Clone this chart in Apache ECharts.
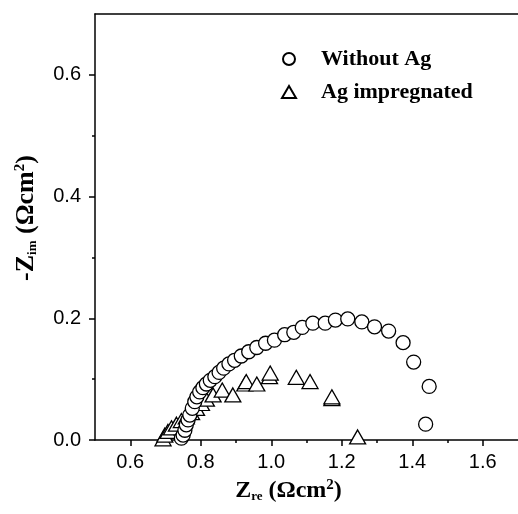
<!DOCTYPE html>
<html>
<head>
<meta charset="utf-8">
<title>Nyquist plot</title>
<script src="https://cdn.jsdelivr.net/npm/echarts@6/dist/echarts.min.js"></script>
</head>
<body style="margin:0">
<div id="main" style="width:518px;height:514px;"></div>
<script type="text/javascript">
var chart = echarts.init(document.getElementById('main'));

// Z_re, -Z_im (Ohm cm2)
var withoutAg = [
  [0.745,0.003],[0.750,0.008],[0.755,0.016],[0.759,0.025],[0.764,0.033],[0.769,0.041],
  [0.776,0.052],[0.783,0.063],[0.789,0.071],[0.797,0.079],[0.806,0.086],[0.816,0.092],
  [0.827,0.098],[0.840,0.104],[0.852,0.111],[0.865,0.118],[0.880,0.125],[0.896,0.131],
  [0.915,0.138],[0.936,0.145],[0.959,0.152],[0.984,0.159],[1.009,0.164],[1.038,0.173],
  [1.064,0.177],[1.088,0.185],[1.118,0.192],[1.153,0.192],[1.182,0.197],[1.217,0.199],
  [1.257,0.194],[1.293,0.186],[1.333,0.179],[1.374,0.160],[1.404,0.128],[1.448,0.088],
  [1.438,0.026]
];
var agImpregnated = [
  [0.693,0.002],[0.698,0.008],[0.707,0.014],[0.717,0.020],[0.731,0.026],[0.745,0.032],
  [0.759,0.038],[0.774,0.045],[0.788,0.052],[0.802,0.060],[0.816,0.067],[0.835,0.074],
  [0.861,0.082],[0.891,0.074],[0.925,0.092],[0.929,0.096],[0.959,0.092],[0.995,0.104],
  [0.997,0.110],[1.071,0.103],[1.110,0.096],[1.172,0.068],[1.172,0.071],[1.245,0.005]
];
var xMajor = [0.6, 0.8, 1.0, 1.2, 1.4, 1.6];
var xMinor = [0.7, 0.9, 1.1, 1.3, 1.5];
var yMajor = [0.0, 0.2, 0.4, 0.6];
var yMinor = [0.1, 0.3, 0.5];

var black = '#000';
var labelFont = {fontFamily: 'Liberation Sans, Arial', fontSize: 20, color: black};
var serifBold = 'Liberation Serif, Times New Roman';

function fmt(v) { return v.toFixed(1); }

function titleRich(size) {
  return {
    z: {fontFamily: serifBold, fontWeight: 'bold', fontSize: size, color: black},
    n: {fontFamily: serifBold, fontWeight: 'bold', fontSize: size, color: black},
    sub: {fontFamily: serifBold, fontWeight: 'bold', fontSize: 13, color: black, verticalAlign: 'bottom', padding: [10, 0, 0, 0]},
    sup: {fontFamily: serifBold, fontWeight: 'bold', fontSize: 15, color: black, verticalAlign: 'top', padding: [0, 0, 10, 0]}
  };
}

var option = {
  animation: false,
  grid: {left: 95, right: -2, top: 14, bottom: 74},
  legend: {
    orient: 'vertical',
    left: 276,
    top: 43,
    itemWidth: 14,
    itemHeight: 12,
    itemGap: 11,
    data: [
      {name: 'Without Ag', icon: 'circle'},
      {name: 'Ag impregnated', icon: 'triangle'}
    ],
    textStyle: {fontFamily: serifBold, fontWeight: 'bold', fontSize: 22, color: black, padding: [0, 0, 0, 20]}
  },
  xAxis: [{
    type: 'value', min: 0.5, max: 1.7, interval: 0.1, position: 'bottom',
    axisLine: {lineStyle: {color: black, width: 1.5}},
    axisTick: {customValues: xMajor, length: 6, lineStyle: {color: black, width: 1.5}},
    axisLabel: Object.assign({customValues: xMajor, formatter: fmt, margin: 12}, labelFont),
    splitLine: {show: false},
    name: '{z|Z}{sub|re}{n| (\u03A9cm}{sup|2}{n|)}',
    nameLocation: 'middle',
    nameGap: 38,
    nameTextStyle: {padding: [0, 36, 0, 0], rich: titleRich(24)}
  }, {
    type: 'value', min: 0.5, max: 1.7, interval: 0.1, position: 'bottom',
    axisLine: {show: false},
    axisTick: {customValues: xMinor, length: 3, lineStyle: {color: black, width: 1.5}},
    axisLabel: {show: false},
    splitLine: {show: false}
  }, {
    type: 'value', min: 0.5, max: 1.7, position: 'top',
    axisLine: {lineStyle: {color: black, width: 1.5}},
    axisTick: {show: false},
    axisLabel: {show: false},
    splitLine: {show: false}
  }],
  yAxis: [{
    type: 'value', min: 0, max: 0.7, interval: 0.1, position: 'left',
    axisLine: {lineStyle: {color: black, width: 1.5}},
    axisTick: {customValues: yMajor, length: 6, lineStyle: {color: black, width: 1.5}},
    axisLabel: Object.assign({customValues: yMajor, formatter: fmt, margin: 14}, labelFont),
    splitLine: {show: false},
    name: '{n|-}{z|Z}{sub|im}{n| (\u03A9cm}{sup|2}{n|)}',
    nameLocation: 'middle',
    nameRotate: 90,
    nameGap: 56,
    nameTextStyle: {padding: [0, 0, 0, 18], rich: titleRich(26)}
  }, {
    type: 'value', min: 0, max: 0.7, interval: 0.1, position: 'left',
    axisLine: {show: false},
    axisTick: {customValues: yMinor, length: 3, lineStyle: {color: black, width: 1.5}},
    axisLabel: {show: false},
    splitLine: {show: false}
  }],
  series: [{
    name: 'Ag impregnated',
    type: 'scatter',
    symbol: 'triangle',
    symbolSize: [16, 14],
    z: 2,
    itemStyle: {color: '#fff', borderColor: black, borderWidth: 1.3, opacity: 1},
    data: agImpregnated
  }, {
    name: 'Without Ag',
    type: 'scatter',
    symbol: 'circle',
    symbolSize: 14,
    z: 3,
    itemStyle: {color: '#fff', borderColor: black, borderWidth: 1.3, opacity: 1},
    data: withoutAg
  }]
};

chart.setOption(option);
</script>
</body>
</html>
